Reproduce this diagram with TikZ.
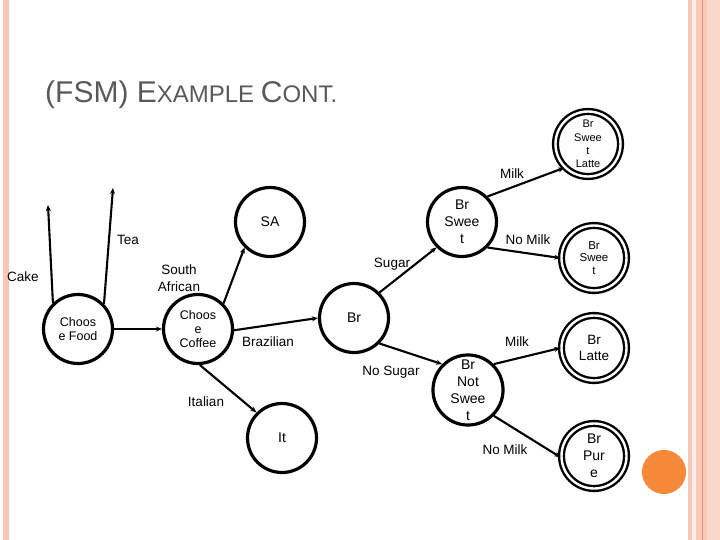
\documentclass[tikz,border=0pt]{standalone}
\usepackage{fontspec}
\setmainfont{Liberation Sans}
\usetikzlibrary{arrows.meta}
\definecolor{stripe}{HTML}{F8C7B5}
\definecolor{stripeb}{HTML}{FBCAB7}
\definecolor{stripel}{HTML}{FCEFE9}
\definecolor{stripedark}{HTML}{E89A78}
\definecolor{titlegray}{HTML}{595959}
\definecolor{dot}{HTML}{F6883A}
\tikzset{
  state/.style={circle, draw, line width=3.2pt, minimum size=69pt, inner sep=0pt, align=center},
  final/.style={circle, draw, line width=2.4pt, double, double distance=2.4pt, minimum size=65pt, inner sep=0pt, align=center},
  edge/.style={line width=2.1pt, -{Stealth[length=6pt,width=5pt]}},
  lbl/.style={inner sep=0pt, align=center, font=\fontsize{13.5}{17}\selectfont},
}
\newcommand{\fs}[2]{\fontsize{#1}{#2}\selectfont}
\begin{document}
\begin{tikzpicture}[x=1pt,y=-1pt]
\useasboundingbox (0,0) rectangle (720,540);
% page decoration
\fill[stripe] (3,0) rectangle (9,540);
\fill[stripe] (688,0) rectangle (692,540);
\fill[stripel] (692,0) rectangle (696,540);
\fill[stripeb] (696,0) rectangle (720,540);
\fill[stripedark] (701.5,0) rectangle (702.7,540);
\fill[stripe!70!white] (707,0) rectangle (720,540);
% title
\node[anchor=base west, inner sep=0pt, text=titlegray] (title) at (45,103)
  {\fs{30}{34}(FSM) E\fs{24}{28}XAMPLE \fs{30}{34}C\fs{24}{28}ONT.};
% states
\node[state, font=\fs{12.5}{14.5}] (cf) at (78,329) {Choos\\e Food};
\node[state, font=\fs{12.5}{14}] (cc) at (198,329) {Choos\\e\\Coffee};
\node[state, font=\fs{14}{17}] (sa) at (270,222) {SA};
\node[state, font=\fs{14}{17}] (br) at (354,318) {Br};
\node[state, font=\fs{14}{17}] (bs) at (462,222) {Br\\Swee\\t};
\node[state, font=\fs{14}{17}] (bns) at (468,390) {Br\\Not\\Swee\\t};
\node[state, font=\fs{14}{17}] (it) at (282,438) {It};
\node[final, font=\fs{11}{13.3}] (bsl) at (588,144) {Br\\Swee\\t\\Latte};
\node[final, font=\fs{11.5}{12.5}] (bsf) at (594,258) {Br\\Swee\\t};
\node[final, font=\fs{13.5}{16}] (bl) at (594,348) {Br\\Latte};
\node[final, font=\fs{14}{17}] (bp) at (594,456) {Br\\Pur\\e};
\coordinate (cakeend) at (48,205);
\coordinate (teaend) at (113,188);
% edges
\draw[edge] (cf.134) -- (cakeend);
\draw[edge] (cf.44) -- (teaend);
\draw[edge] (cf.0) -- (cc.180);
\draw[edge] (cc.45) -- (sa.225);
\draw[edge] (cc.-2) -- (br.180);
\draw[edge] (cc.-87) -- (it.135);
\draw[edge] (br.45) -- (bs.225);
\draw[edge] (br.-45) -- (bns.135);
\draw[edge] (bs.45) -- (bsl.225);
\draw[edge] (bs.-45) -- (bsf.180);
\draw[edge] (bns.45) -- (bl.180);
\draw[edge] (bns.-45) -- (bp.182);
% labels
\node[lbl] (lcake) at (23,277) {Cake};
\node[lbl] (ltea) at (128,240) {Tea};
\node[lbl] (lsa) at (179,278) {South\\African};
\node[lbl] (lbraz) at (268,342) {Brazilian};
\node[lbl] (lital) at (206,402) {Italian};
\node[lbl] (lsugar) at (392,264) {Sugar};
\node[lbl] (lnosugar) at (391,372) {No Sugar};
\node[lbl] (lmilk1) at (512,174) {Milk};
\node[lbl] (lnomilk1) at (528,240) {No Milk};
\node[lbl] (lmilk2) at (517,342) {Milk};
\node[lbl] (lnomilk2) at (505,450) {No Milk};
% orange dot
\fill[dot] (664,472) circle (22);
\end{tikzpicture}
\end{document}
